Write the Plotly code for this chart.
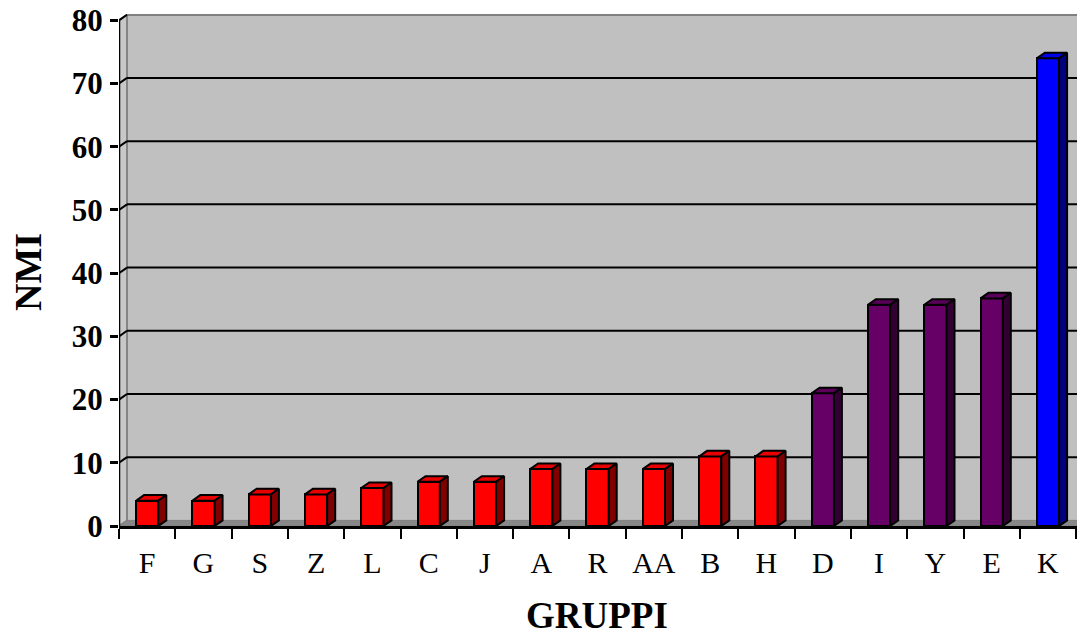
import plotly.graph_objects as go

# NMI per gruppo
gruppi = ["F", "G", "S", "Z", "L", "C", "J", "A", "R", "AA", "B", "H", "D", "I", "Y", "E", "K"]
nmi = [4, 4, 5, 5, 6, 7, 7, 9, 9, 9, 11, 11, 21, 35, 35, 36, 74]
fascia = ["bassa"] * 12 + ["media"] * 4 + ["alta"]
y_ticks = [0, 10, 20, 30, 40, 50, 60, 70, 80]

# colours per band: front face, top face, side face
palette = {
    "bassa": ("#FF0000", "#E80000", "#800000"),
    "media": ("#660066", "#5A005A", "#330033"),
    "alta": ("#0000FF", "#0000E8", "#000080"),
}

W, H = 1077, 639
ML, MR, MT, MB = 119, 0, 14, 113
X0, X1 = -0.5, 16.516
Y0, Y1 = 0, 81
px_x = (W - ML - MR) / (X1 - X0)
px_y = (H - MT - MB) / (Y1 - Y0)
DX = 8 / px_x      # depth offset along x (data units)
DY = 5.6 / px_y    # depth offset along y (data units)
BW = 0.396         # bar width
YMAX = 80
XR = X1 + 1

fig = go.Figure()

shapes = []
# back wall
shapes.append(dict(type="rect", xref="x", yref="y", layer="below",
                   x0=X0 + DX, x1=XR, y0=DY, y1=YMAX + DY,
                   fillcolor="#C0C0C0", line=dict(width=0)))
# side wall
shapes.append(dict(type="path", xref="x", yref="y", layer="below",
                   path=f"M {X0},0 L {X0 + DX},{DY} L {X0 + DX},{YMAX + DY} L {X0},{YMAX} Z",
                   fillcolor="#C8C8C8", line=dict(color="#808080", width=1.5)))
# floor
shapes.append(dict(type="path", xref="x", yref="y", layer="below",
                   path=f"M {X0},0 L {XR},0 L {XR},{DY} L {X0 + DX},{DY} Z",
                   fillcolor="#888888", line=dict(color="#808080", width=1)))
# back wall top edge and left edge
shapes.append(dict(type="line", xref="x", yref="y", layer="below",
                   x0=X0 + DX, x1=XR, y0=YMAX + DY, y1=YMAX + DY,
                   line=dict(color="#808080", width=2.5)))
shapes.append(dict(type="line", xref="x", yref="y", layer="below",
                   x0=X0 + DX, x1=X0 + DX, y0=DY, y1=YMAX + DY,
                   line=dict(color="#808080", width=1.5)))
# gridlines on back and side walls
for v in y_ticks[1:-1]:
    shapes.append(dict(type="line", xref="x", yref="y", layer="below",
                       x0=X0 + DX, x1=XR, y0=v + DY, y1=v + DY,
                       line=dict(color="black", width=2)))
for v in y_ticks[1:]:
    shapes.append(dict(type="line", xref="x", yref="y", layer="below",
                       x0=X0, x1=X0 + DX, y0=v, y1=v + DY,
                       line=dict(color="black", width=2)))
# front value axis line
shapes.append(dict(type="line", xref="x", yref="y", layer="above",
                   x0=X0, x1=X0, y0=0, y1=YMAX,
                   line=dict(color="black", width=2.5)))

# bar front faces
fig.add_trace(go.Bar(
    x=list(range(len(gruppi))), y=nmi, width=BW,
    marker=dict(color=[palette[f][0] for f in fascia],
                line=dict(color="black", width=2)),
    showlegend=False, hoverinfo="skip",
))

# top and side faces of each bar
for i, (v, f) in enumerate(zip(nmi, fascia)):
    xl, xr = i - BW / 2, i + BW / 2
    fig.add_trace(go.Scatter(
        x=[xl, xr, xr + DX, xl + DX, xl], y=[v, v, v + DY, v + DY, v],
        mode="lines", fill="toself", fillcolor=palette[f][1],
        line=dict(color="black", width=2), showlegend=False, hoverinfo="skip"))
    fig.add_trace(go.Scatter(
        x=[xr, xr + DX, xr + DX, xr, xr], y=[0, DY, v + DY, v, 0],
        mode="lines", fill="toself", fillcolor=palette[f][2],
        line=dict(color="black", width=2), showlegend=False, hoverinfo="skip"))

fig.update_layout(
    width=W, height=H,
    margin=dict(l=ML, r=MR, t=MT, b=MB, pad=0),
    paper_bgcolor="white", plot_bgcolor="white",
    shapes=shapes,
    bargap=0,
    xaxis=dict(
        range=[X0, X1], showgrid=False, zeroline=False,
        tickmode="array", tickvals=list(range(len(gruppi))), ticktext=gruppi,
        ticks="", showline=True, linecolor="black", linewidth=2.5,
        tickfont=dict(family="Liberation Serif", size=30, color="black"),
        ticklabelstandoff=8,
        minor=dict(tickmode="linear", tick0=-0.5, dtick=1, ticks="outside",
                   ticklen=10, tickwidth=2, tickcolor="black", showgrid=False),
    ),
    yaxis=dict(
        range=[Y0, Y1], showgrid=False, zeroline=False, showline=False,
        tickmode="array", tickvals=y_ticks,
        ticks="outside", ticklen=8, tickwidth=2.5, tickcolor="black",
        tickfont=dict(family="Liberation Serif", size=31, color="black", weight="bold"),
        ticklabelstandoff=1,
    ),
    annotations=[
        dict(text="NMI", xref="paper", yref="paper",
             x=(28 - ML) / (W - ML - MR), y=(H - MB - 272) / (H - MT - MB),
             xanchor="center", yanchor="middle", textangle=-90, showarrow=False,
             font=dict(family="Liberation Serif", size=38, color="black", weight="bold")),
        dict(text="GRUPPI", xref="paper", yref="paper",
             x=(597 - ML) / (W - ML - MR), y=(H - MB - 615) / (H - MT - MB),
             xanchor="center", yanchor="middle", showarrow=False, borderpad=0,
             font=dict(family="Liberation Serif", size=37, color="black", weight="bold")),
    ],
)

fig.write_html("out.html")
